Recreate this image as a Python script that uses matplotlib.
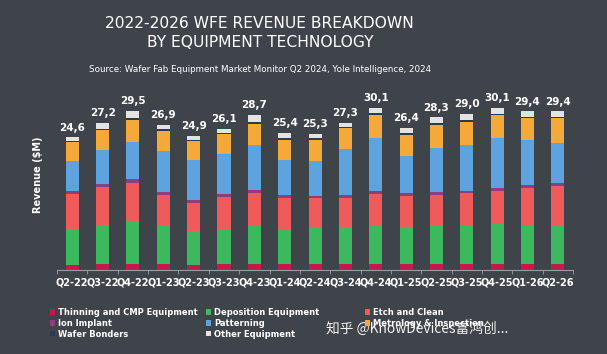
import matplotlib.pyplot as plt
import numpy as np

quarters = ['Q2-22', 'Q3-22', 'Q4-22', 'Q1-23', 'Q2-23', 'Q3-23', 'Q4-23', 'Q1-24', 'Q2-24',
            'Q3-24', 'Q4-24', 'Q1-25', 'Q2-25', 'Q3-25', 'Q4-25', 'Q1-26', 'Q2-26']
totals = [24.6, 27.2, 29.5, 26.9, 24.9, 26.1, 28.7, 25.4, 25.3,
          27.3, 30.1, 26.4, 28.3, 29.0, 30.1, 29.4, 29.4]

# segment values, bottom to top
thinning_cmp = [1.0, 1.1, 1.2, 1.1, 1.0, 1.1, 1.1, 1.1, 1.1, 1.1, 1.1, 1.1, 1.1, 1.2, 1.1, 1.1, 1.1]
deposition   = [6.7, 7.2, 7.9, 7.0, 6.3, 6.6, 7.2, 6.6, 6.8, 6.9, 7.3, 6.8, 7.2, 7.0, 7.5, 7.1, 7.3]
etch_clean   = [6.4, 7.1, 7.1, 5.8, 5.1, 5.9, 6.0, 5.7, 5.4, 5.4, 5.7, 5.8, 5.7, 6.0, 6.0, 7.0, 7.1]
ion_implant  = [0.6, 0.6, 0.6, 0.5, 0.5, 0.5, 0.6, 0.5, 0.5, 0.5, 0.5, 0.5, 0.5, 0.5, 0.6, 0.5, 0.6]
patterning   = [5.6, 6.2, 6.9, 7.7, 7.5, 7.5, 8.3, 6.5, 6.5, 8.5, 9.9, 6.9, 8.1, 8.5, 9.3, 8.4, 7.4]
metrology    = [3.4, 3.7, 4.1, 3.7, 3.5, 3.7, 3.9, 3.7, 3.8, 3.9, 4.3, 4.0, 4.3, 4.3, 4.2, 4.0, 4.6]
bonders      = [0.3, 0.3, 0.4, 0.3, 0.2, 0.2, 0.3, 0.3, 0.3, 0.2, 0.3, 0.3, 0.3, 0.3, 0.3, 0.3, 0.3]
other        = [0.6, 1.0, 1.3, 0.8, 0.8, 0.6, 1.3, 1.0, 0.9, 0.8, 1.0, 1.0, 1.1, 1.2, 1.1, 1.0, 1.0]

series = [
    ('Thinning and CMP Equipment', thinning_cmp, '#c8174f'),
    ('Deposition Equipment', deposition, '#3cb85f'),
    ('Etch and Clean', etch_clean, '#ef5b5b'),
    ('Ion Implant', ion_implant, '#8e3e7c'),
    ('Patterning', patterning, '#5ea3de'),
    ('Metrology & Inspection', metrology, '#f6a93b'),
    ('Wafer Bonders', bonders, '#2b3a52'),
    ('Other Equipment', other, '#e3e3e3'),
]

bg = '#3f444b'
plt.rcParams['font.family'] = ['DejaVu Sans', 'Noto Sans CJK SC']

fig = plt.figure(figsize=(6.07, 3.54), dpi=100, facecolor=bg)
ax = fig.add_axes([0.094, 0.237, 0.850, 0.503], facecolor=bg)

x = np.arange(len(quarters))
bottom = np.zeros(len(quarters))
handles = []
for name, vals, col in series:
    b = ax.bar(x, vals, 0.43, bottom=bottom, color=col, label=name, linewidth=0)
    handles.append(b)
    bottom += np.array(vals)

for xi, top, t in zip(x, bottom, totals):
    ax.text(xi, top + 0.9, f'{t:.1f}'.replace('.', ','), ha='center', va='bottom',
            color='white', fontsize=7.5, fontweight='bold')

ax.set_xlim(-0.5, 16.5)
ax.set_ylim(0, 33)
ax.set_xticks(x)
ax.set_xticklabels(quarters, color='white', fontsize=7, fontweight='bold')
ax.tick_params(axis='x', which='major', length=0, pad=5)
ax.set_xticks(np.arange(-0.5, 17, 1), minor=True)
ax.tick_params(axis='x', which='minor', length=3, color='#9a9ea4', width=0.6)
ax.set_yticks([])
for s in ['top', 'right', 'left']:
    ax.spines[s].set_visible(False)
ax.spines['bottom'].set_color('#9a9ea4')
ax.spines['bottom'].set_linewidth(0.8)

fig.text(0.063, 0.505, 'Revenue ($M)', rotation=90, color='white', fontsize=7,
         fontweight='bold', ha='center', va='center')

fig.text(0.428, 0.935, '2022-2026 WFE REVENUE BREAKDOWN', color='white', fontsize=11.2,
         ha='center', va='center')
fig.text(0.428, 0.879, 'BY EQUIPMENT TECHNOLOGY', color='white', fontsize=11.2,
         ha='center', va='center')
fig.text(0.428, 0.804, 'Source: Wafer Fab Equipment Market Monitor Q2 2024, Yole Intelligence, 2024',
         color='white', fontsize=6.3, ha='center', va='center')

# legend: three columns, filled row by row
cols = [[0, 3, 6], [1, 4, 7], [2, 5]]
col_x = [0.083, 0.340, 0.602]
for idx, cx in zip(cols, col_x):
    leg = fig.legend(handles=[handles[i] for i in idx], loc='upper left',
                     bbox_to_anchor=(cx, 0.13), frameon=False, fontsize=6.0,
                     labelcolor='white', handlelength=0.6, handleheight=0.6,
                     handletextpad=0.3, labelspacing=0.22, borderpad=0, borderaxespad=0)
    for t in leg.get_texts():
        t.set_fontweight('bold')

fig.text(0.537, 0.071, '知乎 @KnowDevices富鸿创...', color='#f2f2f2', fontsize=9.9,
         family=['Noto Sans CJK SC', 'DejaVu Sans'], ha='left', va='center')

fig.savefig('out.png', dpi=100, facecolor=bg)
